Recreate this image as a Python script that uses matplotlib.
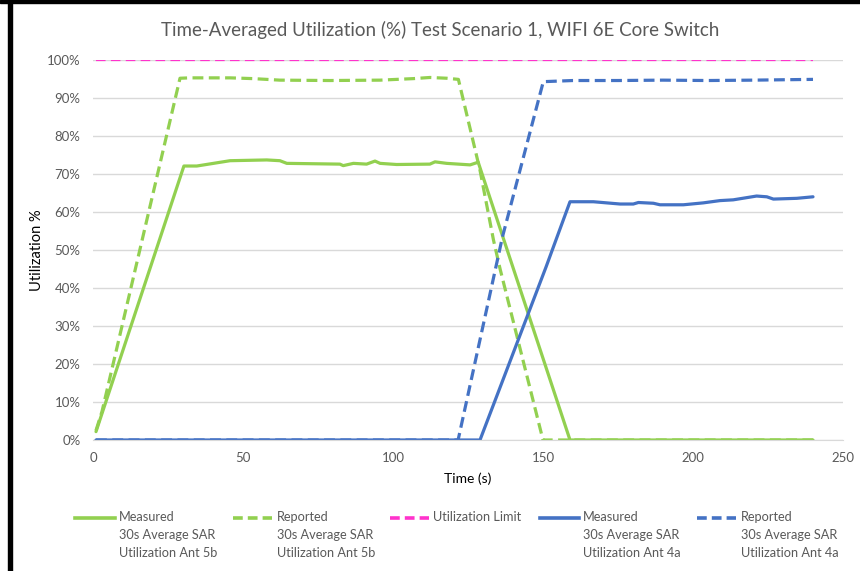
import matplotlib
matplotlib.use("Agg")
import matplotlib.pyplot as plt
from matplotlib.lines import Line2D
from matplotlib.patches import Rectangle

plt.rcParams['font.family'] = ['Lato', 'DejaVu Sans']

# values (time in s, utilization in %)
t_meas_5b = [1, 30.3, 34.6, 45.7, 57.9, 62.3, 64.6, 82.3, 83.4, 86.8, 91.2, 94.0, 95.7,
             101.2, 112.3, 114.0, 117.9, 125.7, 128.4, 159, 240]
u_meas_5b = [2.2, 72.1, 72.1, 73.5, 73.7, 73.5, 72.8, 72.6, 72.2, 72.8, 72.6, 73.4, 72.8,
             72.5, 72.6, 73.2, 72.8, 72.4, 73.1, 0, 0]

t_rep_5b = [1, 3, 29, 32.3, 45.7, 53.4, 62.3, 79, 95.7, 106.8, 112.3, 117.9, 121.8,
            129, 133.5, 135.7, 150, 240]
u_rep_5b = [2.5, 7.5, 95.2, 95.3, 95.3, 95.1, 94.7, 94.6, 94.7, 95.1, 95.4, 95.2, 94.9,
            71, 52.6, 45, 0, 0]

t_limit = [1, 240]
u_limit = [100, 100]

t_meas_4a = [1, 129, 151, 159, 166.8, 175.7, 180.1, 181.8, 186.8, 189, 196.8, 203.4,
             209, 213.4, 221.2, 224.6, 226.8, 234.6, 240]
u_meas_4a = [0, 0, 45.5, 62.7, 62.7, 62.1, 62.1, 62.5, 62.3, 61.9, 61.9, 62.4,
             63.0, 63.2, 64.2, 64.0, 63.4, 63.6, 64.0]

t_rep_4a = [1, 121.7, 136.5, 150.1, 160, 175, 190, 205, 220, 230, 240]
u_rep_4a = [0, 0, 53.5, 94.3, 94.6, 94.6, 94.7, 94.6, 94.7, 94.8, 94.9]

labels = ["Measured\n30s Average SAR\nUtilization Ant 5b",
          "Reported\n30s Average SAR\nUtilization Ant 5b",
          "Utilization Limit",
          "Measured\n30s Average SAR\nUtilization Ant 4a",
          "Reported\n30s Average SAR\nUtilization Ant 4a"]

green = '#92D050'
blue = '#4472C4'
pink = '#FF33CC'
grey = '#595959'

series = [
    (t_meas_5b, u_meas_5b, green, '-', 2.3),
    (t_rep_5b, u_rep_5b, green, '--', 2.3),
    (t_limit, u_limit, pink, '--', 1.6),
    (t_meas_4a, u_meas_4a, blue, '-', 2.3),
    (t_rep_4a, u_rep_4a, blue, '--', 2.3),
]

W, H = 860, 571
fig = plt.figure(figsize=(W / 100, H / 100), dpi=100)
ax = fig.add_axes([93 / W, 1 - 440 / H, (843 - 93) / W, (440 - 60) / H])

for t, u, c, ls, lw in series:
    line, = ax.plot(t, u, color=c, lw=lw, solid_capstyle='round')
    if ls == '--':
        line.set_dashes((3.4, 1.7) if lw > 2 else (4.3, 2.4))

ax.set_xlim(0, 250)
ax.set_ylim(0, 100)
ax.set_xticks(range(0, 251, 50))
ax.set_yticks(range(0, 101, 10))
ax.set_yticklabels([f"{v}%" for v in range(0, 101, 10)])
ax.grid(axis='y', color='#D9D9D9', lw=1)
ax.set_axisbelow(True)
for s in ['top', 'right', 'left']:
    ax.spines[s].set_visible(False)
ax.spines['bottom'].set_color('#D9D9D9')
ax.tick_params(length=0, labelsize=9.5, colors=grey)
ax.tick_params(axis='x', pad=9)
ax.tick_params(axis='y', pad=9)
ax.set_xlabel('Time (s)', fontsize=10, labelpad=6)
ax.set_ylabel('Utilization %', fontsize=10.5, labelpad=2)

fig.text(440 / W, 1 - 30 / H, 'Time-Averaged Utilization (%) Test Scenario 1, WIFI 6E Core Switch',
         ha='center', va='center', fontsize=13.5, color=grey)

# legend laid out like the original: handle level with the first text line
handle_x = [(75, 115), (233, 272), (390, 429), (540, 579), (697, 736)]
text_x = [119, 277, 433, 583, 741]
for (t, u, c, ls, lw), (x0, x1), tx, lab in zip(series, handle_x, text_x, labels):
    hl = Line2D([x0 / W, x1 / W], [1 - 518 / H] * 2, color=c, lw=2.6,
                transform=fig.transFigure)
    if ls == '--':
        hl.set_dashes((2.7, 1.4))
    fig.add_artist(hl)
    fig.text(tx / W, 1 - 511 / H, lab, ha='left', va='top', fontsize=9.2,
             color=grey, linespacing=1.6)

# black frame on top and left like the screenshot
fig.add_artist(Rectangle((0, 1 - 3 / H), 1, 3 / H, color='black', transform=fig.transFigure))
fig.add_artist(Rectangle((8 / W, 0), 4 / W, 1, color='black', transform=fig.transFigure))

fig.savefig('out.png', dpi=100)
